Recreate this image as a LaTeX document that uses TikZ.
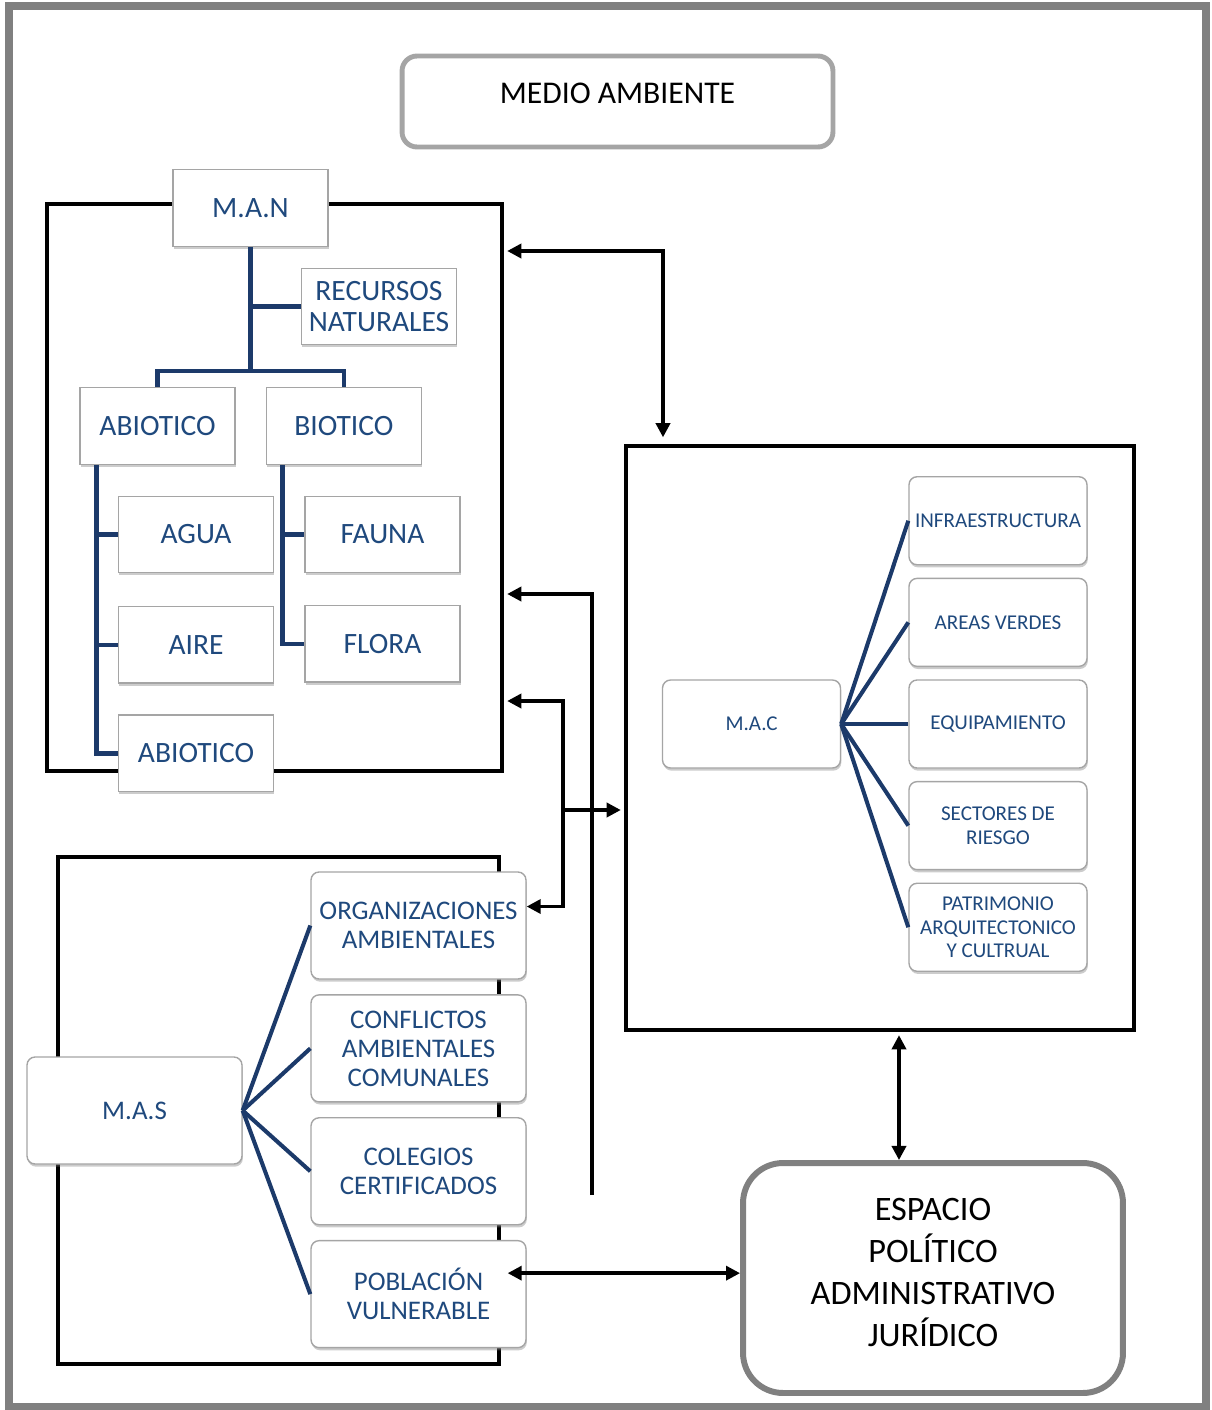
\documentclass[tikz,border=0pt]{standalone}
\usepackage{fontspec}
\setmainfont{Carlito}
\usetikzlibrary{positioning,shadows,arrows.meta}
\definecolor{txtblue}{HTML}{1F497D}
\definecolor{treeblue}{HTML}{1C3A6A}
\definecolor{boxgray}{HTML}{A5A5A5}
\definecolor{framegray}{HTML}{808080}

\begin{document}
\begin{tikzpicture}[x=0.02cm, y=-0.02cm, node distance=0.28cm,
  frame/.style={draw, line width=2pt, inner sep=0pt},
  tbox/.style={draw=boxgray, fill=white, line width=0.8pt, minimum width=3.1cm, minimum height=1.53cm,
    inner sep=1pt, align=center, text=txtblue, font=\fontsize{16.8}{18}\selectfont,
    drop shadow={shadow xshift=0.5pt, shadow yshift=-1.5pt, opacity=0.4}},
  rbox/.style={tbox, rounded corners=0.16cm, minimum width=3.56cm, minimum height=1.76cm, font=\fontsize{12}{13.5}\selectfont},
  sbox/.style={tbox, rounded corners=0.16cm, minimum width=4.3cm, minimum height=2.14cm, font=\fontsize{15.3}{16.5}\selectfont},
  tree/.style={draw=treeblue, line width=2.6pt},
  fan/.style={draw=treeblue, line width=2.3pt},
  link/.style={line width=1.9pt, -{Triangle[length=8pt,width=8pt]}},
  both/.style={line width=1.9pt, {Triangle[length=8pt,width=8pt]}-{Triangle[length=8pt,width=8pt]}}]
  \useasboundingbox (0,0) rectangle (1212,1410);
  \draw[draw=framegray, line width=4pt] (9,6) rectangle (1206,1406);

  % title
  \node[draw=boxgray, line width=2.8pt, rounded corners=0.3cm, minimum width=8.62cm, inner sep=0pt,
    text height=0.94cm, text depth=0.88cm, font=\fontsize{18}{20}\selectfont] (medio) at (617.5,101.5) {MEDIO AMBIENTE};

  % frames
  \node[frame, minimum width=9.1cm, minimum height=11.34cm] (manframe) at (274.5,487.5) {};
  \node[frame, minimum width=10.16cm, minimum height=11.68cm] (macframe) at (880,738) {};
  \node[frame, minimum width=8.82cm, minimum height=10.14cm] (masframe) at (278.5,1110.5) {};

  % M.A.N
  \node[tbox] (man) at (250.5,208) {M.A.N};
  \node[tbox] (rec) at (379,306.5) {RECURSOS\\NATURALES};
  \node[tbox] (abio) at (157.5,426) {ABIOTICO};
  \node[tbox, right=0.6cm of abio] (bio) {BIOTICO};
  \node[tbox] (agua) at (196,534.5) {AGUA};
  \node[tbox, below=0.65cm of agua] (aire) {AIRE};
  \node[tbox, below=0.61cm of aire] (abio2) {ABIOTICO};
  \node[tbox] (fauna) at (382.5,534.5) {FAUNA};
  \node[tbox, below=0.63cm of fauna] (flora) {FLORA};

  \draw[tree] (man.south) |- (rec.west);
  \draw[tree] (man.south) -- ++(0,126);
  \draw[tree] (abio.north) -- ++(0,-16) -| (bio.north);
  \coordinate (av) at ([xshift=0.34cm]abio.south west);
  \draw[tree] (av) |- (agua.west) (av) |- (aire.west) (av) |- (abio2.west);
  \coordinate (bv) at ([xshift=0.34cm]bio.south west);
  \draw[tree] (bv) |- (fauna.west) (bv) |- (flora.west);

  % M.A.C
  \node[rbox] (mac) at (751.5,724) {M.A.C};
  \node[rbox] (equi) at (998,724) {EQUIPAMIENTO};
  \node[rbox, above=0.245cm of equi] (areas) {AREAS VERDES};
  \node[rbox, above=0.245cm of areas] (infra) {INFRAESTRUCTURA};
  \node[rbox, below=0.245cm of equi] (sect) {SECTORES DE\\RIESGO};
  \node[rbox, below=0.245cm of sect] (patri) {PATRIMONIO\\ARQUITECTONICO\\Y CULTRUAL};
  \foreach \n in {infra,areas,equi,sect,patri}
    \draw[fan] (mac.east) -- (\n.west);

  % M.A.S
  \node[sbox] (mas) at (134.5,1110.5) {M.A.S};
  \node[sbox] (org) at (418.5,925.5) {ORGANIZACIONES\\AMBIENTALES};
  \node[sbox, below=0.29cm of org] (conf) {CONFLICTOS\\AMBIENTALES\\COMUNALES};
  \node[sbox, below=0.29cm of conf] (col) {COLEGIOS\\CERTIFICADOS};
  \node[sbox, below=0.29cm of col] (pob) {POBLACIÓN\\VULNERABLE};
  \foreach \n in {org,conf,col,pob}
    \draw[fan] (mas.east) -- (\n.west);

  \node[draw=framegray, line width=3.4pt, rounded corners=0.8cm, minimum width=7.6cm, minimum height=4.6cm,
    align=center, font=\fontsize{19.5}{23.8}\selectfont] (esp) at (933,1278)
    {ESPACIO\\POLÍTICO\\ADMINISTRATIVO\\JURÍDICO\rule[-0.22cm]{0pt}{0.22cm}};

  % links
  \draw[both, shorten <=2pt, shorten >=4pt] (manframe.east |- 0,251) -| (macframe.north -| 663,0);
  \coordinate (free) at (592,1195);
  \draw[link, shorten >=2pt] (free) |- (manframe.east |- 0,594);
  \coordinate (hub) at (563,810);
  \draw[link, shorten >=2pt] (hub) -- (macframe.west |- hub);
  \draw[link, shorten >=2pt] (hub) |- (manframe.east |- 0,701);
  \draw[link] (hub) |- ([yshift=0.38cm]org.east);
  \draw[both, shorten <=2pt] (macframe.south -| 899,0) -- (esp.north -| 899,0);
  \coordinate (pobtip) at ([shift={(-19,-21)}]pob.east);
  \draw[both] (pobtip) -- (esp.west |- pobtip);
\end{tikzpicture}
\end{document}
